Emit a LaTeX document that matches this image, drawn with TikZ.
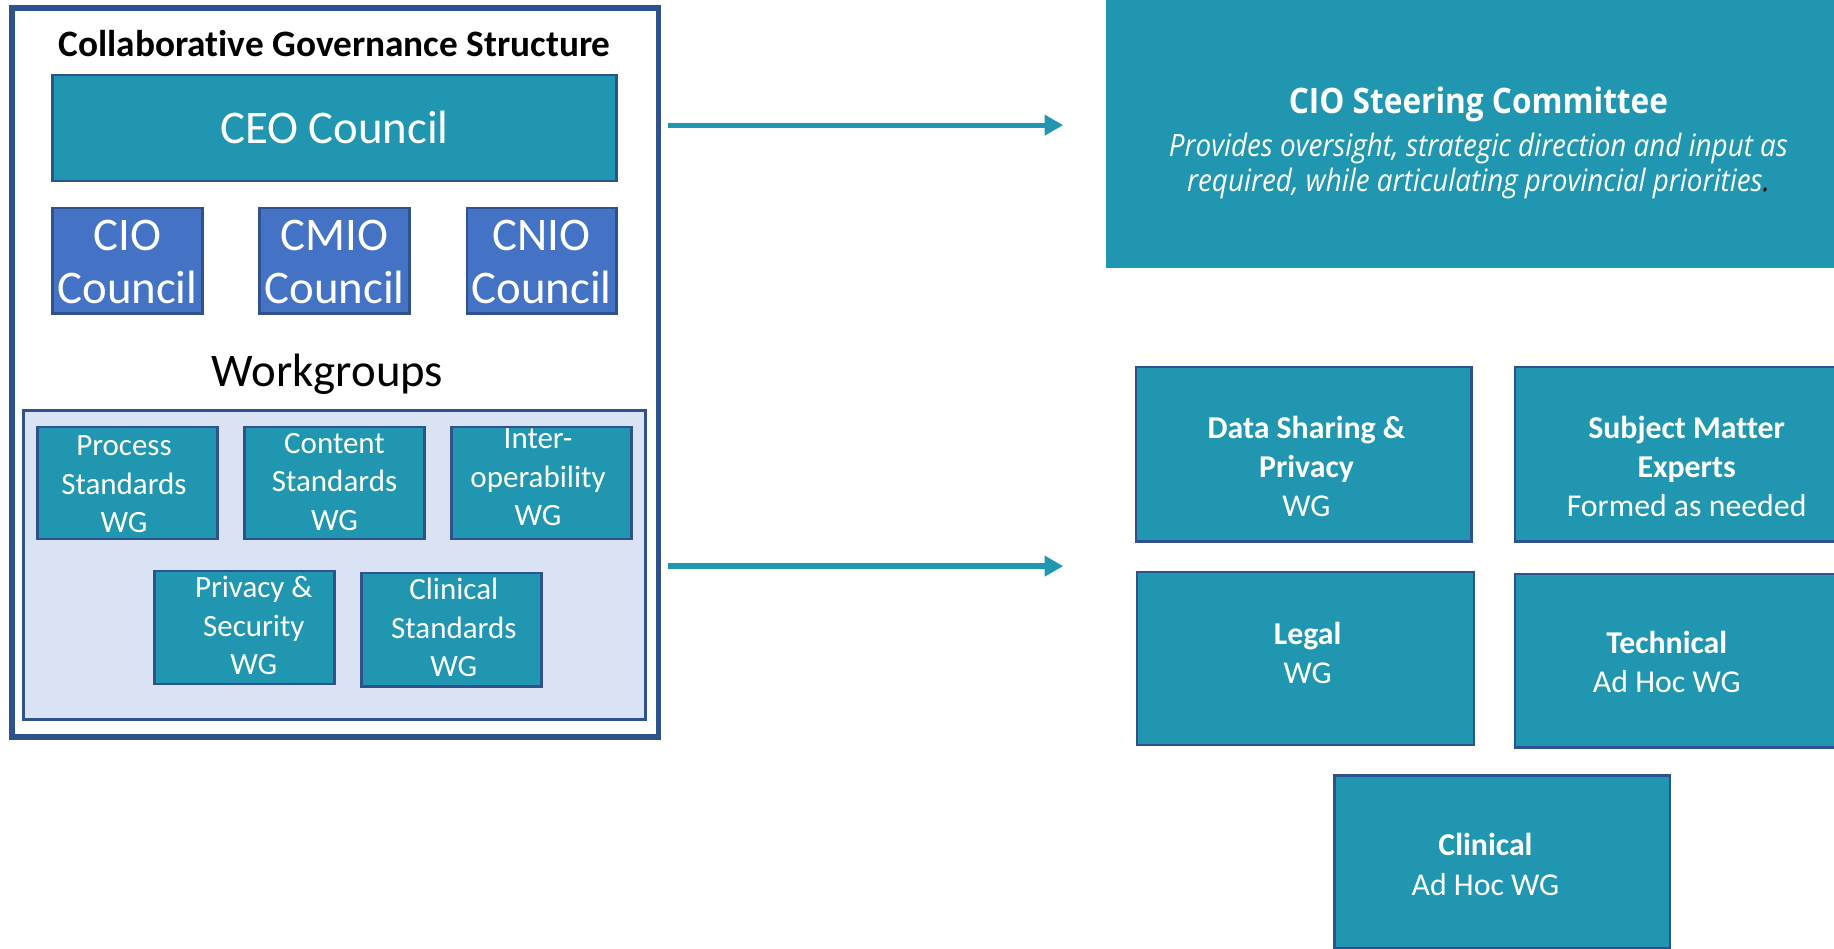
\documentclass[tikz,border=0pt]{standalone}
\usepackage{fontspec}
\setmainfont{Carlito}[Ligatures=NoCommon]
\newfontfamily\osfont[FakeStretch=0.9,Ligatures=NoCommon]{Open Sans}
\usetikzlibrary{arrows.meta,calc}
\definecolor{tealfill}{HTML}{2196B0}
\definecolor{edgeblue}{HTML}{2F528F}
\definecolor{councilblue}{HTML}{4472C4}
\definecolor{panelblue}{HTML}{DAE3F3}
\tikzset{
  box/.style={draw=edgeblue, line width=2pt, fill=tealfill, inner sep=0pt},
  cbox/.style={draw=edgeblue, line width=2pt, fill=councilblue, inner sep=0pt},
  wtext/.style={text=white, align=center, inner sep=0pt},
  big/.style={font=\fontsize{40}{46}\selectfont},
  mid/.style={font=\fontsize{26.5}{33}\selectfont},
  rmid/.style={font=\fontsize{27.2}{33.5}\selectfont},
  conn/.style={draw=tealfill, line width=4.5pt, -{Triangle[length=16pt,width=17pt]}},
}
\begin{document}
\begin{tikzpicture}[x=1pt,y=-1pt]
\useasboundingbox (0,0) rectangle (1568,811);
\clip (0,0) rectangle (1568,811);
% left structure
\node[draw=edgeblue, line width=5pt, fill=white, minimum width=553pt, minimum height=623pt, inner sep=0pt] (outer) at (286.5,318.5) {};
\node[inner sep=0pt, font=\bfseries\fontsize{31.9}{36}\selectfont] (title) at (286,37) {Collaborative Governance Structure};
\node[box, minimum width=482pt, minimum height=91pt] (ceo) at (286,109.5) {};
\node[wtext, big] (ceot) at (286,109) {CEO Council};
\node[cbox, minimum width=128pt, minimum height=90pt] (cio) at (109,223) {};
\node[cbox, minimum width=128pt, minimum height=90pt] (cmio) at (286,223) {};
\node[cbox, minimum width=128pt, minimum height=90pt] (cnio) at (463,223) {};
\node[wtext, big] (ciot) at (109,224) {CIO\\Council};
\node[wtext, big] (cmiot) at (286,224) {CMIO\\Council};
\node[wtext, big] (cniot) at (463,224) {CNIO\\Council};
\node[inner sep=0pt, big] (wgtitle) at (280,320) {Workgroups};
\node[draw=edgeblue, line width=2pt, fill=panelblue, minimum width=532pt, minimum height=264pt, inner sep=0pt] (panel) at (286,483) {};
\node[box, minimum width=154pt, minimum height=96pt] (proc) at (109,413) {};
\node[box, minimum width=154pt, minimum height=96pt] (cont) at (286,413) {};
\node[box, minimum width=154pt, minimum height=96pt] (inter) at (463,413) {};
\node[box, minimum width=154pt, minimum height=97pt] (priv) at (209,536.5) {};
\node[box, minimum width=154pt, minimum height=97pt] (clin) at (386,538.5) {};
\node[wtext, mid] (proct) at (106,414) {Process\\Standards\\WG};
\node[wtext, mid] (contt) at (286,412) {Content\\Standards\\WG};
\node[wtext, mid] (intert) at (460,408) {Inter-\\operability\\WG};
\node[wtext, mid] (privt) at (217,535) {Privacy \&\\Security\\WG};
\node[wtext, mid] (clint) at (388,536.5) {Clinical\\Standards\\WG};
% right side
\node[fill=tealfill, minimum width=622pt, minimum height=229pt, inner sep=0pt] (steer) at (1257,114.5) {};
\node[wtext, font=\osfont\bfseries\fontsize{30}{34}\selectfont] (steert) at (1264,89) {CIO Steering Committee};
\node[wtext, font=\osfont\itshape\fontsize{26.4}{30}\selectfont] (steerd) at (1264,142) {Provides oversight, strategic direction and input as\\required, while articulating provincial priorities\textcolor{black}{.}};
\node[box, minimum width=287pt, minimum height=149pt] (dsp) at (1114.5,388.5) {};
\node[box, minimum width=287pt, minimum height=149pt] (sme) at (1438.5,388.5) {};
\node[box, minimum width=288pt, minimum height=148pt] (legal) at (1116,563) {};
\node[box, minimum width=288pt, minimum height=148pt] (tech) at (1439,565) {};
\node[box, minimum width=287pt, minimum height=148pt] (clah) at (1284.5,737) {};
\node[wtext, rmid] (dspt) at (1117,399) {\textbf{Data Sharing \&}\\\textbf{Privacy}\\WG};
\node[wtext, rmid] (smet) at (1442,399) {\textbf{Subject Matter}\\\textbf{Experts}\\Formed as needed};
\node[wtext, rmid] (legalt) at (1118,558) {\textbf{Legal}\\WG};
\node[wtext, rmid] (techt) at (1425,566) {\textbf{Technical}\\Ad Hoc WG};
\node[wtext, rmid] (claht) at (1270,739) {\textbf{Clinical}\\Ad Hoc WG};
% connectors
\coordinate (a1end) at (909,107);
\coordinate (a2end) at (909,484);
\draw[conn, shorten <=6pt] (outer.east |- a1end) -- (a1end);
\draw[conn, shorten <=6pt] (outer.east |- a2end) -- (a2end);
\end{tikzpicture}
\end{document}
